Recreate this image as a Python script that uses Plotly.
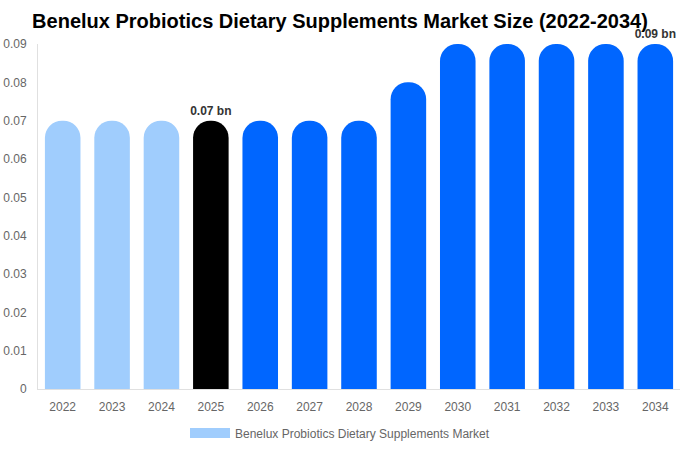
import plotly.graph_objects as go

years = [str(y) for y in range(2022, 2035)]
market_size = [0.07, 0.07, 0.07, 0.07, 0.07, 0.07, 0.07, 0.08, 0.09, 0.09, 0.09, 0.09, 0.09]
bar_colors = ["#a0cdfd"] * 3 + ["#000000"] + ["#0066ff"] * 9
labels = ["", "", "", "0.07 bn", "", "", "", "", "", "", "", "", "0.09 bn"]
series_name = "Benelux Probiotics Dietary Supplements Market"

fig = go.Figure()
fig.add_trace(go.Bar(
    x=years,
    y=market_size,
    marker=dict(color=bar_colors, cornerradius="50%", line=dict(width=0)),
    text=labels,
    textposition="outside",
    constraintext="none",
    textfont=dict(family="Liberation Sans, Arial", size=12, color="#333333", weight="bold"),
    cliponaxis=False,
    name=series_name,
    showlegend=False,
    hoverinfo="x+y",
))
# legend entry with a wide swatch
fig.add_trace(go.Scatter(
    x=[None], y=[None], mode="lines",
    line=dict(color="#a0cdfd", width=12),
    name=series_name, showlegend=True, hoverinfo="skip",
))

fig.update_layout(
    width=680,
    height=450,
    margin=dict(l=38, r=0, t=44, b=61, autoexpand=False),
    paper_bgcolor="white",
    plot_bgcolor="white",
    font=dict(family="Liberation Sans, Arial", color="#666666", size=12),
    title=dict(
        text="<b>Benelux Probiotics Dietary Supplements Market Size (2022-2034)</b>",
        x=0.5, xanchor="center", y=0.953, yanchor="middle",
        font=dict(size=20, color="#000000"),
    ),
    bargap=0.28,
    xaxis=dict(type="category", categoryorder="array", categoryarray=years,
               range=[-0.5, len(years) - 0.5],
               showline=True, linecolor="#e0e0e0", ticks="", showgrid=False,
               automargin=False, ticklabelstandoff=7),
    yaxis=dict(range=[0, 0.09], dtick=0.01, showline=True, linecolor="#e0e0e0",
               showgrid=False, zeroline=False, tickformat="~g",
               automargin=False, ticklabelstandoff=8),
    legend=dict(orientation="h", x=0.5, xanchor="center", xref="container",
                y=0.038, yanchor="middle", yref="container", itemwidth=40),
)

# drop the default 8px body margin so the figure sits at the page corner
fig.write_html("out.html", config={"displayModeBar": False},
               post_script="document.body.style.margin='0px';")
